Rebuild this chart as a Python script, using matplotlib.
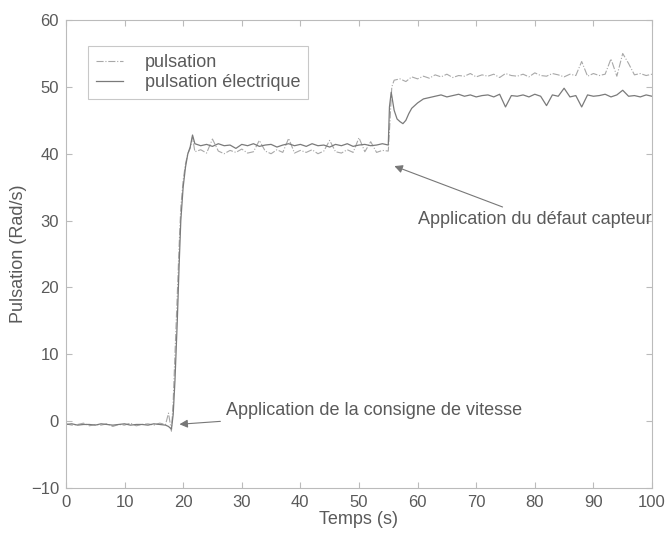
import matplotlib
matplotlib.use('Agg')
import matplotlib.pyplot as plt

# "pulsation" (dash-dot, light)
pul_t = [0, 1, 2, 3, 4, 5, 6, 7, 8, 9, 10, 11, 12, 13, 14, 15, 16, 17,
         17.5, 18, 18.3, 18.6, 19, 19.3, 19.6, 20, 20.4, 20.8, 21.2, 21.6, 22,
         23, 24, 25, 26, 27, 28, 29, 30, 31, 32, 33, 34, 35, 36, 37, 38, 39, 40,
         41, 42, 43, 44, 45, 46, 47, 48, 49, 50, 51, 52, 53, 54, 55,
         55.3, 55.6, 56, 57, 58, 59, 60, 61, 62, 63, 64, 65, 66, 67, 68, 69, 70,
         71, 72, 73, 74, 75, 76, 77, 78, 79, 80, 81, 82, 83, 84, 85, 86, 87, 88,
         89, 90, 91, 92, 93, 94, 95, 96, 97, 98, 99, 100]
pul_v = [-0.4, -0.6, -0.5, -0.3, -0.7, -0.5, -0.6, -0.4, -0.8, -0.5, -0.6, -0.3, -0.7, -0.5, -0.4, -0.6, -0.3, -0.5,
         1.2, -1.5, 3, 10, 19, 26, 32, 36, 38.5, 40, 40.8, 42.5, 40.3,
         40.6, 40.1, 42.2, 40.4, 40.0, 40.5, 40.2, 40.7, 40.1, 40.3, 42.0, 40.4, 40.0, 40.6, 40.2, 42.3, 40.1, 40.5,
         40.2, 40.6, 40.0, 40.4, 42.0, 40.3, 40.1, 40.6, 40.2, 42.4, 40.3, 41.8, 40.2, 40.5, 40.4,
         45, 50, 51, 51.2, 50.8, 51.5, 51.2, 51.6, 51.3, 51.8, 51.5, 51.9, 51.4, 51.7, 51.6, 52.0, 51.5,
         51.8, 51.6, 51.9, 51.4, 52.0, 51.7, 51.6, 51.9, 51.5, 52.1, 51.7, 51.6, 52.0, 51.8, 51.5, 51.9, 51.7, 53.8,
         51.6, 52.0, 51.7, 51.9, 54.2, 51.6, 55.0, 53.5, 51.8, 52.0, 51.7, 51.9]

# "pulsation électrique" (solid, darker)
ele_t = [0, 1, 2, 3, 4, 5, 6, 7, 8, 9, 10, 11, 12, 13, 14, 15, 16, 17,
         17.5, 18, 18.3, 18.6, 19, 19.3, 19.6, 20, 20.4, 20.8, 21.2, 21.6, 22,
         23, 24, 25, 26, 27, 28, 29, 30, 31, 32, 33, 34, 35, 36, 37, 38, 39, 40,
         41, 42, 43, 44, 45, 46, 47, 48, 49, 50, 51, 52, 53, 54, 55,
         55.2, 55.5, 56, 56.5, 57, 57.5, 58, 58.5, 59, 60, 61, 62, 63, 64, 65, 66, 67, 68, 69, 70,
         71, 72, 73, 74, 75, 76, 77, 78, 79, 80, 81, 82, 83, 84, 85, 86, 87, 88,
         89, 90, 91, 92, 93, 94, 95, 96, 97, 98, 99, 100]
ele_v = [-0.5, -0.4, -0.6, -0.5, -0.5, -0.6, -0.4, -0.5, -0.6, -0.5, -0.4, -0.6, -0.5, -0.5, -0.6, -0.4, -0.5, -0.6,
         -0.8, -1.2, 1, 6, 15, 23, 30, 35, 38, 40, 41, 42.8, 41.5,
         41.2, 41.4, 41.1, 41.5, 41.2, 41.3, 40.8, 41.4, 41.2, 41.5, 41.1, 41.3, 41.4, 41.0, 41.3, 41.5, 41.2, 41.4,
         41.1, 41.5, 41.2, 41.3, 41.0, 41.4, 41.2, 41.5, 41.1, 41.3, 41.4, 41.2, 41.3, 41.5, 41.3,
         47, 49.2, 46.5, 45.2, 44.8, 44.5, 45, 46, 46.8, 47.6, 48.2, 48.4, 48.6, 48.8, 48.5, 48.7, 48.9, 48.6, 48.8, 48.5,
         48.7, 48.8, 48.5, 48.9, 47.0, 48.7, 48.6, 48.8, 48.5, 48.9, 48.6, 47.2, 48.8, 48.6, 49.8, 48.5, 48.7, 47.0,
         48.8, 48.6, 48.7, 48.9, 48.5, 48.8, 49.5, 48.6, 48.7, 48.5, 48.8, 48.6]

XTICKS = list(range(0, 101, 10))
YTICKS = list(range(-10, 61, 10))
TXT = '#5a5a5a'

plt.rcParams['font.family'] = ['Liberation Sans', 'DejaVu Sans']
fig = plt.figure(figsize=(6.66, 5.36), dpi=100)
ax = fig.add_axes((0.099, 0.0896, 0.88, 0.873))

ax.plot(pul_t, pul_v, color='#a8a8a8', linestyle='-.', linewidth=0.8, label='pulsation')
ax.plot(ele_t, ele_v, color='#7a7a7a', linestyle='-', linewidth=0.9, label='pulsation électrique')

ax.set_xlim(0, 100)
ax.set_ylim(-10, 60)
ax.set_xticks(XTICKS)
ax.set_yticks(YTICKS)
ax.tick_params(direction='in', length=4, colors='#bbbbbb', labelcolor=TXT, labelsize=12,
               top=True, right=True, pad=5)
for s in ax.spines.values():
    s.set_color('#bbbbbb')
    s.set_linewidth(0.8)

ax.set_xlabel('Temps (s)', fontsize=13, color=TXT, labelpad=1)
ax.set_ylabel('Pulsation (Rad/s)', fontsize=13, color=TXT, labelpad=3)

leg = ax.legend(loc='upper left', bbox_to_anchor=(0.0375, 0.944), fontsize=13,
                frameon=True, fancybox=False, handlelength=1.5, borderpad=0.45,
                labelspacing=0.15, handletextpad=1.2, borderaxespad=0)
leg.get_frame().set_edgecolor('#bbbbbb')
leg.get_frame().set_linewidth(0.8)
for t in leg.get_texts():
    t.set_color(TXT)

arrow = dict(arrowstyle='-|>', color='#777777', lw=0.8, mutation_scale=12)
ax.annotate('Application de la consigne de vitesse', xy=(18.9, -0.5), xytext=(27.3, 1.6),
            fontsize=13, color=TXT, va='center', arrowprops=arrow)
ax.annotate('Application du défaut capteur', xy=(55.6, 38.3), xytext=(60.1, 30.2),
            fontsize=13, color=TXT, va='center', arrowprops=arrow)

fig.savefig('out.png', dpi=100)
